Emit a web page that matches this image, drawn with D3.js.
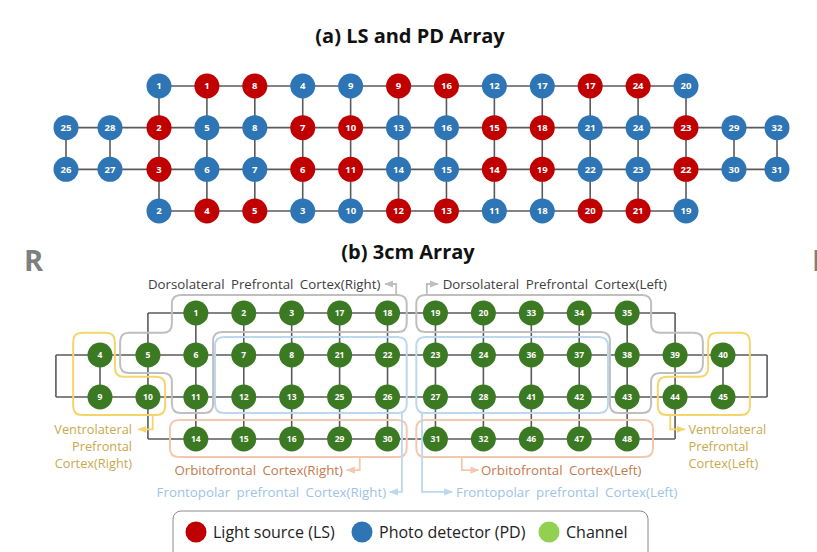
<!DOCTYPE html>
<html><head><meta charset="utf-8">
<script src="https://cdn.jsdelivr.net/npm/d3@7"></script>
<style>body{margin:0;background:#fff} svg{display:block;font-family:'Open Sans','Noto Sans',sans-serif}</style>
</head><body><svg id="c" width="817" height="552"></svg>
<script>
// ---------- DATA ----------
// (a) LS and PD array: labels per row, type per node (R = light source, B = photo detector)
const aRow0Labels = [1,1,8,4,9,9,16,12,17,17,24,20];
const aRow0Types  = "BRRBBRRBBRRB";
const aRow1Labels = [25,28,2,5,8,7,10,13,16,15,18,21,24,23,29,32];
const aRow1Types  = "BBRBBRRBBRRBBRBB";
const aRow2Labels = [26,27,3,6,7,6,11,14,15,14,19,22,23,22,30,31];
const aRow2Types  = "BBRBBRRBBRRBBRBB";
const aRow3Labels = [2,4,5,3,10,12,13,11,18,20,21,19];
const aRow3Types  = "BRRBBRRBBRRB";
const aRowStart   = [2,0,0,2];
// (b) 3cm array: channel numbers per row
const bRow0 = [1,2,3,17,18,19,20,33,34,35];
const bRow1 = [4,5,6,7,8,21,22,23,24,36,37,38,39,40];
const bRow2 = [9,10,11,12,13,25,26,27,28,41,42,43,44,45];
const bRow3 = [14,15,16,29,30,31,32,46,47,48];
const bRowStart = [2,0,0,2];
const regionLabels = ["Dorsolateral Prefrontal Cortex(Right)","Dorsolateral Prefrontal Cortex(Left)",
  "Ventrolateral","Prefrontal","Cortex(Right)","Cortex(Left)",
  "Orbitofrontal Cortex(Right)","Orbitofrontal Cortex(Left)",
  "Frontopolar prefrontal Cortex(Right)","Frontopolar prefrontal Cortex(Left)"];
const legendLabels = ["Light source (LS)","Photo detector (PD)","Channel"];
const titles = ["(a) LS and PD Array","(b) 3cm Array"];

// ---------- STYLE ----------
const RED="#c00000", BLUE="#2e75b6", GREEN="#3b7a23", LGREEN="#92d050", LINE="#5a5a5a";
const C_DL="#bfbfbf", C_VL="#f6d46c", C_VLT="#c9a94e", C_OF="#f4c8ae", C_OFT="#c47a4e", C_FP="#bdd7ee", C_FPT="#9dc3e6";

const svg = d3.select("#c");
const defs = svg.append("defs");
function marker(id,color){
  defs.append("marker").attr("id",id).attr("viewBox","0 0 10 10").attr("refX",9).attr("refY",5)
   .attr("markerWidth",5).attr("markerHeight",5).attr("orient","auto")
   .append("path").attr("d","M0,1L10,5L0,9Z").attr("fill",color);
}
marker("mDL",C_DL); marker("mVL",C_VL); marker("mOF",C_OF); marker("mFP",C_FP);

// ---------- (a) ----------
const xA = d3.scaleLinear().domain([0,1,2,13,14,15]).range([66,110,159,686,734,777]);
const yA = d3.scaleLinear().domain([0,3]).range([86,211]);
svg.append("text").attr("x",410).attr("y",43).attr("text-anchor","middle")
  .attr("font-size",20).attr("font-weight",700).attr("fill","#111").text(titles[0]);

const aRows = [[aRow0Labels,aRow0Types],[aRow1Labels,aRow1Types],[aRow2Labels,aRow2Types],[aRow3Labels,aRow3Types]];
const aNodes = [];
aRows.forEach(([labs,types],r)=>labs.forEach((l,i)=>aNodes.push({r,c:aRowStart[r]+i,label:l,type:types[i]})));
const gA = svg.append("g");
// grid lines
const aLines = [];
aRows.forEach(([labs],r)=>aLines.push([[aRowStart[r],r],[aRowStart[r]+labs.length-1,r]]));
d3.range(2,14).forEach(c=>aLines.push([[c,0],[c,3]]));
[0,1,14,15].forEach(c=>aLines.push([[c,1],[c,2]]));
gA.selectAll("line").data(aLines).join("line")
  .attr("x1",d=>xA(d[0][0])).attr("y1",d=>yA(d[0][1])).attr("x2",d=>xA(d[1][0])).attr("y2",d=>yA(d[1][1]))
  .attr("stroke",LINE).attr("stroke-width",1.6);
const an = gA.selectAll("g.n").data(aNodes).join("g").attr("transform",d=>`translate(${xA(d.c)},${yA(d.r)})`);
an.append("circle").attr("r",12.5).attr("fill",d=>d.type==="R"?RED:BLUE);
an.append("text").attr("text-anchor","middle").attr("dy","0.35em").attr("font-size",9.5).attr("font-weight",700)
  .attr("fill","#fff").text(d=>d.label);

// ---------- (b) ----------
const xB = d3.scaleLinear().domain([0,13]).range([100,723]);
const yB = d3.scaleLinear().domain([0,3]).range([313,439]);
svg.append("text").attr("x",408).attr("y",259).attr("text-anchor","middle")
  .attr("font-size",20).attr("font-weight",700).attr("fill","#111").text(titles[1]);
svg.append("text").attr("x",24).attr("y",271).attr("font-size",29).attr("font-weight",700).attr("fill","#7f7f7f").text("R");
svg.append("text").attr("x",812).attr("y",271).attr("font-size",29).attr("font-weight",700).attr("fill","#7f7f7f").text("L");

const gB = svg.append("g");
const bRows = [bRow0,bRow1,bRow2,bRow3];
const bLines = [
  [[1,0],[12,0]],[[-0.92,1],[13.92,1]],[[-0.92,2],[13.92,2]],[[1,3],[12,3]],
  [[-0.92,1],[-0.92,2]],[[13.92,1],[13.92,2]],[[0,1],[0,2]],[[13,1],[13,2]]
];
d3.range(1,13).forEach(c=>bLines.push([[c,0],[c,3]]));
gB.selectAll("line").data(bLines).join("line")
  .attr("x1",d=>xB(d[0][0])).attr("y1",d=>yB(d[0][1])).attr("x2",d=>xB(d[1][0])).attr("y2",d=>yB(d[1][1]))
  .attr("stroke",LINE).attr("stroke-width",1.6);

function roundedPath(pts,r){
  const n=pts.length; let d="";
  for(let i=0;i<n;i++){
    const p0=pts[(i-1+n)%n],p1=pts[i],p2=pts[(i+1)%n];
    const d1=Math.hypot(p1[0]-p0[0],p1[1]-p0[1]), d2=Math.hypot(p2[0]-p1[0],p2[1]-p1[1]);
    const rr=Math.min(r,d1/2,d2/2);
    const a=[p1[0]+(p0[0]-p1[0])*rr/d1,p1[1]+(p0[1]-p1[1])*rr/d1];
    const b=[p1[0]+(p2[0]-p1[0])*rr/d2,p1[1]+(p2[1]-p1[1])*rr/d2];
    d+=(i===0?"M":"L")+a[0]+","+a[1]+"Q"+p1[0]+","+p1[1]+" "+b[0]+","+b[1];
  }
  return d+"Z";
}
const px = p=>[xB(p[0]),yB(p[1])];
const mir = pts=>pts.map(p=>[13-p[0],p[1]]);
const rect = (u0,v0,u1,v1)=>[[u0,v0],[u1,v0],[u1,v1],[u0,v1]];
const dlR = [[1.5,-0.43],[6.4,-0.43],[6.4,0.45],[2.36,0.45],[2.36,2.38],[1.5,2.38],[1.5,1.43],[0.42,1.43],[0.42,0.47],[1.5,0.47]];
const vlR = [[-0.56,0.47],[0.31,0.47],[0.31,1.52],[1.36,1.52],[1.36,2.43],[-0.56,2.43]];
const fpR = rect(2.4,0.57,6.4,2.38);
const ofR = rect(1.46,2.55,6.4,3.43);
const boxes = [
  {p:dlR,c:C_DL},{p:mir(dlR),c:C_DL},{p:vlR,c:C_VL},{p:mir(vlR),c:C_VL},
  {p:fpR,c:C_FP},{p:mir(fpR),c:C_FP},{p:ofR,c:C_OF},{p:mir(ofR),c:C_OF}
];
gB.selectAll("path.box").data(boxes).join("path").attr("class","box")
  .attr("d",d=>roundedPath(d.p.map(px),9)).attr("fill","none").attr("stroke",d=>d.c).attr("stroke-width",2);

// leader arrows [points in grid units], marker
const leaders = [
  {p:[[6.18,-0.43],[6.18,-0.69],[5.95,-0.69]],m:"mDL",c:C_DL},
  {p:[[6.82,-0.43],[6.82,-0.69],[7.05,-0.69]],m:"mDL",c:C_DL},
  {p:[[1.1,2.43],[1.1,2.77],[0.8,2.77]],m:"mVL",c:C_VL},
  {p:[[11.9,2.43],[11.9,2.77],[12.2,2.77]],m:"mVL",c:C_VL},
  {p:[[5.42,3.43],[5.42,3.74],[5.15,3.74]],m:"mOF",c:C_OF},
  {p:[[7.55,3.43],[7.55,3.74],[7.9,3.74]],m:"mOF",c:C_OF},
  {p:[[6.3,2.38],[6.3,4.26],[6.05,4.26]],m:"mFP",c:C_FP},
  {p:[[6.72,2.38],[6.72,4.26],[7.35,4.26]],m:"mFP",c:C_FP}
];
gB.selectAll("path.ld").data(leaders).join("path").attr("class","ld")
  .attr("d",d=>d3.line()(d.p.map(px))).attr("fill","none").attr("stroke",d=>d.c).attr("stroke-width",1.8)
  .attr("marker-end",d=>`url(#${d.m})`);

// region labels
const labs = [
  {t:regionLabels[0],u:5.85,v:-0.69,a:"end",c:"#404040",s:13.3},
  {t:regionLabels[1],u:7.15,v:-0.69,a:"start",c:"#404040",s:13.3},
  {t:regionLabels[2],u:0.67,v:2.77,a:"end",c:C_VLT,s:12.8},
  {t:regionLabels[3],u:0.67,v:3.18,a:"end",c:C_VLT,s:12.8},
  {t:regionLabels[4],u:0.67,v:3.59,a:"end",c:C_VLT,s:12.8},
  {t:regionLabels[2],u:12.28,v:2.77,a:"start",c:C_VLT,s:12.8},
  {t:regionLabels[3],u:12.28,v:3.18,a:"start",c:C_VLT,s:12.8},
  {t:regionLabels[5],u:12.28,v:3.59,a:"start",c:C_VLT,s:12.8},
  {t:regionLabels[6],u:5.07,v:3.74,a:"end",c:C_OFT,s:13.3},
  {t:regionLabels[7],u:7.95,v:3.74,a:"start",c:C_OFT,s:13.3},
  {t:regionLabels[8],u:5.97,v:4.26,a:"end",c:C_FPT,s:13.3},
  {t:regionLabels[9],u:7.43,v:4.26,a:"start",c:C_FPT,s:13.3}
];
gB.selectAll("text.rl").data(labs).join("text").attr("class","rl")
  .attr("x",d=>xB(d.u)).attr("y",d=>yB(d.v)).attr("dy","0.35em").attr("text-anchor",d=>d.a)
  .attr("font-size",d=>d.s).attr("word-spacing",3).attr("fill",d=>d.c).text(d=>d.t);

const bNodes=[];
bRows.forEach((row,r)=>row.forEach((l,i)=>bNodes.push({r,c:bRowStart[r]+i,label:l})));
const bn = gB.selectAll("g.n").data(bNodes).join("g").attr("transform",d=>`translate(${xB(d.c)},${yB(d.r)})`);
bn.append("circle").attr("r",12.5).attr("fill",GREEN);
bn.append("text").attr("text-anchor","middle").attr("dy","0.35em").attr("font-size",8.5).attr("font-weight",700)
  .attr("fill","#fff").text(d=>d.label);

// ---------- legend ----------
const lg = svg.append("g");
lg.append("rect").attr("x",173).attr("y",511).attr("width",475).attr("height",60).attr("rx",8)
  .attr("fill","#fff").attr("stroke","#8c8c8c").attr("stroke-width",1);
const legItems = [{t:legendLabels[0],c:RED,x:196},{t:legendLabels[1],c:BLUE,x:362},{t:legendLabels[2],c:LGREEN,x:549}];
const li = lg.selectAll("g.li").data(legItems).join("g").attr("transform",d=>`translate(${d.x},532)`);
li.append("circle").attr("r",10.5).attr("fill",d=>d.c);
li.append("text").attr("x",17).attr("dy","0.35em").attr("font-size",16).attr("fill","#222").text(d=>d.t);
</script></body></html>
